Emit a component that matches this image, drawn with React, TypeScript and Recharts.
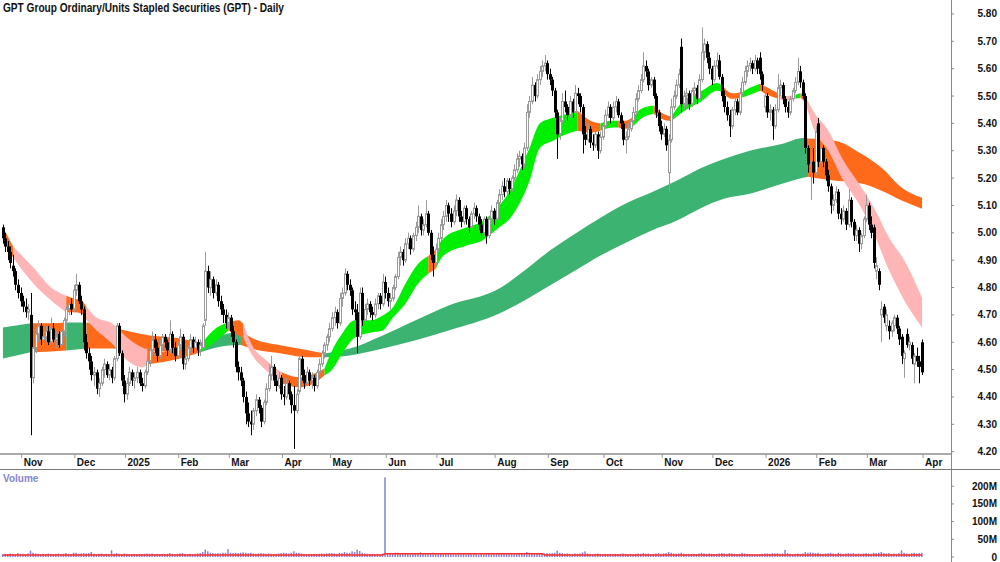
import React from 'react';
import { ComposedChart, Bar, Area, Line, XAxis, YAxis } from 'recharts';

type Candle = [number, number, number, number, number]; // open, high, low, close, volume (M)

const oct24: Candle[] = [
  [5.02,5.03,4.96,4.98,8],[4.98,5.00,4.93,4.95,9],[4.95,4.97,4.90,4.93,8],[4.93,4.95,4.87,4.89,10],
  [4.88,4.92,4.84,4.86,9],[4.86,4.87,4.79,4.81,8],[4.81,4.83,4.76,4.78,11],[4.78,4.80,4.73,4.75,9],
];
const nov24: Candle[] = [
  [4.75,4.77,4.71,4.73,9],[4.73,4.76,4.69,4.71,8],[4.71,4.74,4.68,4.72,10],[4.70,4.78,4.26,4.47,18],
  [4.47,4.60,4.45,4.58,12],[4.58,4.65,4.56,4.63,10],[4.63,4.68,4.60,4.66,9],[4.66,4.67,4.59,4.61,8],
  [4.61,4.64,4.58,4.62,9],[4.62,4.66,4.60,4.64,8],[4.64,4.66,4.59,4.60,10],[4.60,4.69,4.59,4.65,9],
  [4.65,4.67,4.60,4.61,8],[4.61,4.64,4.58,4.62,9],[4.63,4.64,4.58,4.59,10],[4.59,4.65,4.58,4.64,8],
  [4.64,4.69,4.62,4.68,9],[4.68,4.73,4.66,4.72,11],[4.72,4.76,4.70,4.74,9],[4.74,4.76,4.70,4.72,8],
  [4.72,4.81,4.71,4.79,12],
];
const dec24: Candle[] = [
  [4.79,4.85,4.77,4.81,12],[4.81,4.82,4.74,4.75,9],[4.75,4.77,4.70,4.72,10],[4.72,4.73,4.57,4.60,11],
  [4.60,4.63,4.54,4.56,10],[4.56,4.58,4.50,4.53,11],[4.53,4.55,4.46,4.48,14],[4.48,4.51,4.44,4.49,9],
  [4.49,4.50,4.41,4.43,8],[4.43,4.47,4.40,4.45,9],[4.45,4.51,4.44,4.50,10],[4.50,4.54,4.47,4.52,8],
  [4.52,4.53,4.47,4.48,9],[4.48,4.52,4.46,4.50,8],[4.50,4.51,4.45,4.47,19],[4.47,4.55,4.46,4.54,9],
  [4.54,4.67,4.53,4.66,11],[4.66,4.67,4.55,4.56,9],[4.56,4.57,4.44,4.46,7],[4.46,4.48,4.38,4.41,10],
];
const jan25: Candle[] = [
  [4.41,4.47,4.39,4.45,9],[4.45,4.51,4.44,4.49,8],[4.49,4.50,4.44,4.46,8],[4.46,4.49,4.43,4.47,9],
  [4.47,4.51,4.45,4.49,8],[4.49,4.50,4.44,4.45,7],[4.45,4.47,4.42,4.44,8],[4.44,4.50,4.43,4.49,9],
  [4.49,4.55,4.48,4.53,10],[4.53,4.58,4.51,4.57,9],[4.57,4.64,4.55,4.61,10],[4.61,4.63,4.56,4.58,8],
  [4.58,4.60,4.53,4.55,9],[4.55,4.61,4.54,4.59,8],[4.59,4.63,4.57,4.62,9],[4.62,4.63,4.58,4.60,8],
  [4.60,4.61,4.55,4.57,9],[4.57,4.68,4.56,4.63,11],[4.63,4.64,4.56,4.58,9],[4.58,4.60,4.53,4.55,8],
  [4.55,4.60,4.54,4.59,9],
];
const feb25: Candle[] = [
  [4.59,4.65,4.57,4.62,10],[4.62,4.63,4.50,4.52,11],[4.52,4.56,4.50,4.54,9],[4.54,4.59,4.53,4.58,8],
  [4.58,4.63,4.56,4.61,9],[4.61,4.62,4.56,4.58,8],[4.58,4.62,4.57,4.60,9],[4.60,4.61,4.55,4.57,10],
  [4.57,4.61,4.55,4.59,11],[4.58,4.67,4.57,4.66,14],[4.68,4.93,4.66,4.86,21],[4.86,4.88,4.78,4.80,16],
  [4.80,4.86,4.77,4.83,12],[4.83,4.84,4.76,4.78,11],[4.78,4.83,4.77,4.81,10],[4.81,4.82,4.73,4.75,11],
  [4.75,4.77,4.70,4.72,10],[4.72,4.74,4.67,4.70,12],[4.70,4.72,4.65,4.67,12],[4.67,4.71,4.65,4.69,22],
];
const mar25: Candle[] = [
  [4.69,4.70,4.62,4.64,12],[4.64,4.66,4.58,4.60,11],[4.60,4.61,4.49,4.51,12],[4.51,4.53,4.46,4.49,11],
  [4.49,4.51,4.44,4.46,12],[4.46,4.47,4.38,4.40,13],[4.40,4.42,4.30,4.34,12],[4.34,4.38,4.29,4.31,11],
  [4.31,4.35,4.26,4.30,12],[4.30,4.36,4.28,4.35,10],[4.35,4.41,4.33,4.39,9],[4.39,4.40,4.34,4.36,10],
  [4.36,4.37,4.29,4.31,11],[4.31,4.39,4.30,4.38,10],[4.38,4.45,4.37,4.43,9],[4.43,4.52,4.42,4.48,10],
  [4.48,4.55,4.46,4.51,9],[4.51,4.52,4.44,4.46,8],[4.46,4.48,4.42,4.44,9],[4.44,4.49,4.43,4.47,10],
  [4.47,4.48,4.39,4.41,11],
];
const apr25: Candle[] = [
  [4.41,4.44,4.37,4.40,12],[4.40,4.47,4.39,4.45,11],[4.45,4.46,4.39,4.41,10],[4.41,4.42,4.34,4.37,12],
  [4.37,4.44,4.21,4.35,16],[4.35,4.43,4.34,4.41,12],[4.42,4.56,4.41,4.54,12],[4.54,4.55,4.46,4.48,10],
  [4.48,4.50,4.43,4.45,9],[4.45,4.51,4.44,4.49,8],[4.49,4.50,4.44,4.46,9],[4.46,4.49,4.43,4.47,8],
  [4.47,4.48,4.42,4.44,9],[4.44,4.50,4.43,4.49,8],[4.49,4.54,4.48,4.52,9],[4.52,4.57,4.51,4.56,10],
  [4.56,4.60,4.54,4.59,9],[4.59,4.63,4.57,4.62,10],[4.62,4.67,4.60,4.65,11],
];
const may25: Candle[] = [
  [4.65,4.71,4.64,4.69,11],[4.69,4.73,4.66,4.71,10],[4.71,4.72,4.65,4.67,9],[4.67,4.78,4.66,4.76,12],
  [4.76,4.80,4.73,4.78,11],[4.78,4.87,4.77,4.85,14],[4.85,4.86,4.79,4.81,12],[4.81,4.83,4.77,4.79,12],
  [4.79,4.80,4.70,4.72,16],[4.72,4.75,4.68,4.71,14],[4.71,4.74,4.56,4.62,21],[4.62,4.80,4.61,4.78,17],
  [4.78,4.80,4.66,4.68,12],[4.68,4.74,4.67,4.72,10],[4.72,4.76,4.70,4.74,9],[4.74,4.75,4.69,4.71,8],
  [4.71,4.73,4.68,4.70,9],[4.70,4.76,4.69,4.74,8],[4.74,4.78,4.72,4.77,9],[4.77,4.78,4.72,4.74,8],
  [4.74,4.85,4.73,4.82,10],[4.82,4.84,4.76,4.78,225],
];
const jun25: Candle[] = [
  [4.78,4.80,4.73,4.75,11],[4.75,4.78,4.72,4.76,9],[4.76,4.81,4.75,4.80,10],[4.80,4.85,4.79,4.84,12],
  [4.84,4.93,4.83,4.91,12],[4.91,4.95,4.88,4.93,11],[4.93,4.94,4.88,4.90,9],[4.90,4.98,4.89,4.96,10],
  [4.96,5.00,4.94,4.98,9],[4.98,4.99,4.92,4.94,8],[4.94,5.00,4.93,4.99,9],[4.99,5.04,4.97,5.02,10],
  [5.02,5.10,5.00,5.06,11],[5.06,5.07,4.99,5.01,13],[5.01,5.05,4.99,5.03,9],[5.03,5.12,5.02,5.07,10],
  [5.07,5.08,4.99,5.00,9],[5.00,5.01,4.90,4.92,11],[4.92,4.95,4.84,4.89,12],[4.89,4.96,4.88,4.94,10],
];
const jul25: Candle[] = [
  [4.94,5.00,4.93,4.98,9],[4.98,5.05,4.97,5.03,10],[5.03,5.08,5.01,5.06,9],[5.06,5.12,5.04,5.10,10],
  [5.10,5.11,5.04,5.07,8],[5.07,5.09,5.02,5.04,9],[5.04,5.10,5.03,5.08,8],[5.08,5.14,5.06,5.12,9],
  [5.12,5.13,5.04,5.06,10],[5.06,5.08,5.02,5.04,8],[5.04,5.10,5.03,5.09,9],[5.09,5.10,5.03,5.05,8],
  [5.05,5.06,5.00,5.02,9],[5.02,5.08,5.01,5.07,8],[5.07,5.11,5.05,5.09,9],[5.09,5.10,5.04,5.06,8],
  [5.06,5.07,5.01,5.03,7],[5.03,5.05,4.99,5.00,9],[5.00,5.06,4.99,5.05,8],[5.05,5.06,4.96,4.99,10],
  [4.99,5.06,4.98,5.05,9],[5.05,5.10,5.03,5.08,8],[5.08,5.09,5.03,5.05,9],
];
const aug25: Candle[] = [
  [5.05,5.12,5.04,5.11,10],[5.11,5.16,5.09,5.14,9],[5.14,5.19,5.12,5.17,10],[5.17,5.20,5.13,5.15,9],
  [5.15,5.20,5.14,5.19,8],[5.19,5.20,5.14,5.16,9],[5.16,5.21,5.15,5.20,10],[5.20,5.25,5.19,5.23,11],
  [5.23,5.29,5.22,5.27,10],[5.27,5.30,5.24,5.28,9],[5.28,5.29,5.23,5.25,10],[5.25,5.33,5.24,5.31,11],
  [5.31,5.47,5.30,5.44,14],[5.44,5.50,5.42,5.48,12],[5.48,5.57,5.47,5.54,11],[5.54,5.55,5.48,5.50,10],
  [5.50,5.58,5.49,5.56,9],[5.56,5.61,5.54,5.59,10],[5.59,5.63,5.57,5.61,9],[5.61,5.65,5.59,5.62,10],
  [5.62,5.63,5.56,5.58,11],
];
const sep25: Candle[] = [
  [5.58,5.60,5.54,5.56,10],[5.56,5.57,5.50,5.52,11],[5.52,5.53,5.42,5.44,12],[5.44,5.45,5.27,5.36,18],
  [5.36,5.42,5.34,5.41,12],[5.41,5.51,5.40,5.48,11],[5.48,5.52,5.44,5.46,9],[5.46,5.47,5.41,5.43,10],
  [5.43,5.50,5.42,5.48,9],[5.48,5.49,5.42,5.44,8],[5.44,5.54,5.43,5.51,10],[5.51,5.53,5.47,5.50,9],
  [5.50,5.51,5.44,5.46,10],[5.46,5.47,5.29,5.36,13],[5.36,5.39,5.32,5.34,16],[5.34,5.40,5.33,5.38,10],
  [5.38,5.39,5.31,5.33,9],[5.33,5.36,5.30,5.32,8],[5.32,5.38,5.31,5.36,9],[5.36,5.37,5.27,5.30,10],
  [5.30,5.37,5.29,5.35,9],[5.35,5.40,5.34,5.39,8],
];
const oct25: Candle[] = [
  [5.39,5.45,5.38,5.43,9],[5.43,5.48,5.42,5.46,8],[5.46,5.47,5.40,5.42,9],[5.42,5.48,5.41,5.46,8],
  [5.46,5.50,5.44,5.48,9],[5.48,5.49,5.42,5.43,8],[5.43,5.44,5.38,5.40,9],[5.40,5.41,5.32,5.34,10],
  [5.34,5.37,5.29,5.35,9],[5.35,5.40,5.34,5.38,8],[5.38,5.42,5.37,5.41,9],[5.41,5.46,5.40,5.44,8],
  [5.44,5.51,5.43,5.49,9],[5.49,5.54,5.48,5.52,10],[5.52,5.58,5.51,5.56,9],[5.56,5.66,5.55,5.61,11],
  [5.61,5.63,5.57,5.59,9],[5.59,5.60,5.52,5.54,10],[5.54,5.57,5.53,5.56,8],[5.56,5.57,5.49,5.50,9],
  [5.50,5.51,5.42,5.44,10],[5.44,5.45,5.37,5.39,11],[5.39,5.41,5.34,5.36,9],
];
const nov25: Candle[] = [
  [5.36,5.40,5.35,5.38,10],[5.38,5.39,5.30,5.32,11],[5.22,5.36,5.15,5.34,14],[5.34,5.49,5.33,5.46,12],
  [5.46,5.52,5.45,5.50,10],[5.50,5.56,5.49,5.54,9],[5.54,5.60,5.53,5.58,10],[5.68,5.71,5.44,5.47,12],
  [5.47,5.52,5.45,5.50,9],[5.50,5.53,5.46,5.51,8],[5.51,5.52,5.45,5.47,9],[5.47,5.53,5.46,5.52,8],
  [5.52,5.55,5.50,5.53,9],[5.53,5.54,5.47,5.49,8],[5.49,5.58,5.48,5.56,10],[5.56,5.75,5.55,5.66,12],
  [5.66,5.71,5.63,5.69,10],[5.69,5.70,5.62,5.64,9],[5.64,5.66,5.58,5.60,10],[5.60,5.61,5.54,5.56,9],
];
const dec25: Candle[] = [
  [5.56,5.63,5.55,5.61,8],[5.61,5.66,5.60,5.63,9],[5.63,5.65,5.56,5.57,10],[5.57,5.58,5.48,5.50,11],
  [5.50,5.52,5.44,5.46,10],[5.46,5.48,5.41,5.43,9],[5.43,5.45,5.35,5.39,11],[5.39,5.46,5.38,5.45,10],
  [5.45,5.50,5.43,5.48,9],[5.48,5.49,5.43,5.44,8],[5.44,5.53,5.43,5.51,9],[5.51,5.57,5.50,5.55,12],
  [5.55,5.61,5.54,5.59,10],[5.59,5.63,5.57,5.61,9],[5.61,5.64,5.59,5.62,8],[5.62,5.63,5.58,5.60,7],
  [5.60,5.65,5.59,5.63,8],[5.63,5.64,5.58,5.60,7],[5.64,5.66,5.56,5.58,8],[5.58,5.59,5.52,5.54,9],
  [5.46,5.52,5.44,5.50,10],
];
const jan26: Candle[] = [
  [5.50,5.51,5.42,5.44,10],[5.44,5.47,5.41,5.45,9],[5.45,5.46,5.34,5.39,11],[5.39,5.47,5.38,5.45,10],
  [5.45,5.58,5.44,5.53,11],[5.53,5.56,5.50,5.54,9],[5.54,5.55,5.47,5.49,10],[5.49,5.50,5.44,5.46,20],
  [5.46,5.48,5.42,5.44,11],[5.44,5.50,5.43,5.49,9],[5.49,5.53,5.48,5.52,8],[5.52,5.57,5.51,5.55,9],
  [5.55,5.64,5.54,5.59,10],[5.59,5.61,5.53,5.55,9],[5.55,5.56,5.49,5.50,10],[5.50,5.51,5.29,5.31,14],
  [5.31,5.32,5.22,5.25,12],[5.25,5.29,5.12,5.26,13],[5.26,5.31,5.18,5.22,12],[5.22,5.39,5.21,5.37,11],
];
const feb26: Candle[] = [
  [5.40,5.42,5.24,5.26,12],[5.26,5.33,5.25,5.31,10],[5.31,5.32,5.24,5.26,9],[5.26,5.27,5.19,5.21,10],
  [5.21,5.23,5.15,5.17,11],[5.17,5.18,5.07,5.10,12],[5.10,5.14,5.08,5.12,10],[5.12,5.17,5.11,5.15,9],
  [5.15,5.16,5.05,5.07,12],[5.07,5.09,5.03,5.05,10],[5.05,5.10,5.04,5.08,9],[5.08,5.09,5.01,5.03,10],
  [5.03,5.16,5.02,5.12,11],[5.12,5.13,5.02,5.04,10],[5.04,5.05,4.97,4.99,11],[4.99,5.03,4.97,5.01,9],
  [5.01,5.02,4.93,4.96,10],[4.96,5.00,4.94,4.99,9],[4.99,5.06,4.98,5.05,10],[5.05,5.14,5.04,5.10,11],
];
const mar26: Candle[] = [
  [5.10,5.11,5.01,5.03,10],[5.03,5.06,4.98,5.00,9],[5.02,5.03,4.87,4.89,12],[4.86,4.91,4.83,4.88,11],
  [4.86,4.87,4.79,4.81,12],[4.70,4.75,4.60,4.72,14],[4.73,4.74,4.67,4.69,11],[4.66,4.72,4.64,4.70,10],
  [4.66,4.68,4.61,4.64,11],[4.64,4.68,4.62,4.67,9],[4.66,4.70,4.64,4.69,10],[4.69,4.70,4.63,4.65,9],
  [4.65,4.66,4.59,4.61,11],[4.62,4.63,4.52,4.55,19],[4.54,4.57,4.47,4.56,12],[4.63,4.65,4.58,4.59,10],
  [4.59,4.62,4.57,4.60,9],[4.59,4.60,4.52,4.54,11],[4.52,4.56,4.45,4.55,12],[4.55,4.58,4.51,4.53,10],
  [4.53,4.55,4.45,4.51,11],[4.60,4.61,4.48,4.49,12],
];

const monthBars: Candle[][] = [nov24, dec24, jan25, feb25, mar25, apr25, may25, jun25, jul25, aug25, sep25, oct25, nov25, dec25, jan26, feb26, mar26];
const monthLabels = ['Nov', 'Dec', '2025', 'Feb', 'Mar', 'Apr', 'May', 'Jun', 'Jul', 'Aug', 'Sep', 'Oct', 'Nov', 'Dec', '2026', 'Feb', 'Mar'];
const endLabel = 'Apr';

// fast trend band: [index, low, high]
const shortBand: number[][] = [
  [0,4.97,5.02],[4,4.91,4.95],[12,4.815,4.873],[19,4.753,4.80],[25,4.71,4.77],[28,4.71,4.76],[31,4.705,4.753],
  [33,4.68,4.73],[37,4.643,4.69],[43,4.596,4.669],[49,4.534,4.617],[55,4.508,4.581],[57,4.52,4.575],[62,4.526,4.563],
  [70,4.541,4.577],[78,4.563,4.588],[83,4.596,4.643],[89,4.643,4.672],[93,4.625,4.68],[95,4.615,4.665],[98,4.559,4.596],
  [104,4.497,4.534],[110,4.45,4.49],[117,4.435,4.472],[123,4.45,4.486],[127,4.479,4.504],[130,4.50,4.57],[134,4.559,4.632],
  [139,4.617,4.68],[145,4.635,4.68],[150,4.643,4.698],[154,4.69,4.727],[159,4.742,4.815],[164,4.815,4.887],[168,4.85,4.915],
  [171,4.87,4.94],[174,4.917,4.979],[183,4.953,5.019],[189,4.97,5.04],[196,5.02,5.10],[200,5.05,5.15],[204,5.107,5.227],
  [208,5.19,5.311],[212,5.31,5.40],[217,5.336,5.42],[223,5.362,5.435],[227,5.373,5.446],[232,5.366,5.41],[236,5.373,5.40],
  [240,5.384,5.41],[243,5.385,5.41],[246,5.38,5.41],[249,5.39,5.425],[252,5.417,5.453],[257,5.435,5.465],[260,5.417,5.44],
  [264,5.408,5.425],[268,5.439,5.475],[276,5.482,5.519],[282,5.519,5.548],[284,5.515,5.54],[288,5.49,5.51],[292,5.495,5.515],
  [295,5.505,5.53],[299,5.519,5.545],[303,5.50,5.526],[307,5.488,5.505],[309,5.482,5.50],[313,5.49,5.505],[315,5.495,5.51],
  [317,5.475,5.50],[320,5.384,5.446],[326,5.30,5.373],[332,5.19,5.263],[338,5.107,5.18],[344,4.997,5.092],[350,4.862,4.982],
  [356,4.753,4.899],[363,4.654,4.763],
];
const shortSegments: [string, number, number][] = [
  ['o',0,4],['p',4,25],['o',25,33],['p',33,57],['o',57,78],['g',78,89],['o',89,95],['p',95,110],['o',110,127],
  ['g',127,168],['o',168,171],['g',171,227],['o',227,236],['g',236,243],['o',243,249],['g',249,257],['o',257,264],
  ['g',264,284],['o',284,292],['g',292,299],['o',299,307],['p',307,313],['g',313,315],['o',315,317],['p',317,363],
];

// slow trend band: [index, low, high]
const longBand: number[][] = [
  [0,4.541,4.654],[11,4.563,4.669],[19,4.566,4.669],[25,4.57,4.672],[33,4.577,4.672],[43,4.577,4.654],[58,4.57,4.625],
  [70,4.563,4.614],[78,4.563,4.599],[89,4.588,4.632],[94,4.59,4.64],[98,4.577,4.617],[110,4.559,4.588],[121,4.545,4.57],
  [127,4.545,4.559],[137,4.552,4.577],[150,4.577,4.625],[163,4.607,4.68],[176,4.643,4.734],[196,4.705,4.796],
  [206,4.753,4.862],[216,4.807,4.935],[226,4.862,4.997],[236,4.917,5.055],[246,4.964,5.107],[256,5.008,5.147],
  [266,5.044,5.19],[276,5.092,5.238],[285,5.125,5.271],[295,5.143,5.30],[308,5.18,5.326],[316,5.201,5.347],
  [318,5.205,5.345],[329,5.19,5.336],[339,5.18,5.289],[347,5.154,5.238],[355,5.118,5.165],[363,5.088,5.128],
];
const longSegments: [string, number, number][] = [
  ['G',0,11],['o',11,25],['G',25,33],['o',33,78],['G',78,94],['o',94,127],['G',127,318],['o',318,363],
];

const volAvg: number[][] = [[0,5.5],[150,5.6],[151,9.4],[213,9.4],[214,5.6],[363,5.5]];

const priceTicks = [4.2,4.3,4.4,4.5,4.6,4.7,4.8,4.9,5.0,5.1,5.2,5.3,5.4,5.5,5.6,5.7,5.8];
const volTicks = [0, 50, 100, 150, 200];

const COLORS: Record<string, string> = { g: '#00ee00', o: '#ff6a1a', p: '#ffb5b5', G: '#3cb371' };
const FONT = "'Liberation Sans', Arial, Helvetica, sans-serif";

const X0 = -1.163;
const X1 = 374.43;
const P0 = 4.1915;
const P1 = 5.851;

const allBars: Candle[] = [oct24, ...monthBars].flat();
const rows = allBars.map((b, i) => ({ i, o: b[0], h: b[1], l: b[2], c: b[3], v: b[4], hl: [b[2], b[1]] }));

const tickPos: number[] = [];
const tickLab: string[] = [];
{
  let start = oct24.length;
  monthBars.forEach((m, k) => {
    tickPos.push(start - 0.6);
    tickLab.push(monthLabels[k]);
    start += m.length;
  });
  tickPos.push(start - 0.6);
  tickLab.push(endLabel);
}

const segData = (band: number[][], from: number, to: number) =>
  band.filter((p) => p[0] >= from && p[0] <= to).map((p) => ({ i: p[0], r: [p[1], p[2]] }));

const volAvgRows = volAvg.map((p) => ({ i: p[0], m: p[1] }));

const renderCandle = (props: any) => {
  const { x, y, width, height } = props;
  const d = props.payload || props;
  if (x == null || y == null || !isFinite(height)) return <g />;
  const cx = Math.round(x + width / 2) + 0.5;
  const span = d.h - d.l;
  const k = span > 0 ? height / span : 0;
  const yo = y + (d.h - d.o) * k;
  const yc = y + (d.h - d.c) * k;
  const top = Math.min(yo, yc);
  const bh = Math.max(Math.abs(yo - yc), 1);
  const up = d.c >= d.o;
  const col = up ? '#9a9a9a' : '#000000';
  return (
    <g>
      <line x1={cx} x2={cx} y1={y} y2={y + height} stroke={col} strokeWidth={1} />
      {up ? (
        <rect x={cx - 1} y={top} width={2} height={bh} fill="#ffffff" stroke={col} strokeWidth={1} />
      ) : (
        <rect x={cx - 1.5} y={top} width={3} height={bh} fill={col} />
      )}
    </g>
  );
};

const renderVolBar = (props: any) => {
  const { x, y, width, height } = props;
  if (x == null || y == null || !isFinite(height) || height <= 0) return <g />;
  const cx = x + width / 2;
  return <rect x={cx - 0.75} y={y} width={1.5} height={height} fill="#8282d6" />;
};

const renderMonthTick = (props: any) => {
  const v = props.payload?.value;
  let idx = 0;
  let best = Infinity;
  tickPos.forEach((t, k) => {
    const dd = Math.abs(t - v);
    if (dd < best) { best = dd; idx = k; }
  });
  return (
    <text x={props.x + 2} y={466} fontSize={10} fontWeight="bold" fill="#111" fontFamily={FONT} textAnchor="start">
      {tickLab[idx]}
    </text>
  );
};

const renderPriceTick = (props: any) => (
  <text x={997} y={props.y} fontSize={10} fontWeight="bold" fill="#111" fontFamily={FONT} textAnchor="end" dominantBaseline="central">
    {Number(props.payload?.value).toFixed(2)}
  </text>
);

const renderVolTick = (props: any) => {
  const v = Number(props.payload?.value);
  return (
    <text x={997} y={props.y} fontSize={10} fontWeight="bold" fill="#111" fontFamily={FONT} textAnchor="end" dominantBaseline="central">
      {v === 0 ? '0' : `${v}M`}
    </text>
  );
};

export default function App() {
  return (
    <div style={{ position: 'absolute', left: 0, top: 0, width: 1000, height: 562, background: '#fff', overflow: 'hidden', fontFamily: FONT }}>
      <div style={{ position: 'absolute', left: 0, top: 0 }}>
        <ComposedChart width={1000} height={470} data={rows} margin={{ top: 0, right: 0, bottom: 0, left: 0 }}>
          <XAxis
            dataKey="i"
            type="number"
            domain={[X0, X1]}
            allowDataOverflow
            ticks={tickPos}
            interval={0}
            height={16}
            tickSize={4}
            tickLine={{ stroke: '#999' }}
            axisLine={{ stroke: '#aaaaaa', strokeWidth: 2 }}
            tick={renderMonthTick}
          />
          <YAxis
            orientation="right"
            type="number"
            domain={[P0, P1]}
            allowDataOverflow
            ticks={priceTicks}
            interval={0}
            width={49}
            tickSize={3}
            axisLine={false}
            tickLine={{ stroke: '#888' }}
            tick={renderPriceTick}
          />
          {longSegments.map((s, k) => (
            <Area
              key={`L${k}`}
              data={segData(longBand, s[1], s[2])}
              dataKey="r"
              type="monotone"
              stroke="none"
              fill={COLORS[s[0]]}
              fillOpacity={1}
              dot={false}
              activeDot={false}
              isAnimationActive={false}
            />
          ))}
          {shortSegments.map((s, k) => (
            <Area
              key={`S${k}`}
              data={segData(shortBand, s[1], s[2])}
              dataKey="r"
              type="monotone"
              stroke="none"
              fill={COLORS[s[0]]}
              fillOpacity={1}
              dot={false}
              activeDot={false}
              isAnimationActive={false}
            />
          ))}
          <Bar dataKey="hl" barSize={3} shape={renderCandle} isAnimationActive={false} />
        </ComposedChart>
      </div>
      <div style={{ position: 'absolute', left: 0, top: 470 }}>
        <ComposedChart width={1000} height={92} data={rows} margin={{ top: 0, right: 0, bottom: 5, left: 0 }}>
          <XAxis dataKey="i" type="number" domain={[X0, X1]} allowDataOverflow hide />
          <YAxis
            orientation="right"
            type="number"
            domain={[0, 245.8]}
            allowDataOverflow
            ticks={volTicks}
            interval={0}
            width={49}
            tickSize={3}
            axisLine={false}
            tickLine={{ stroke: '#888' }}
            tick={renderVolTick}
          />
          <Bar dataKey="v" barSize={2} shape={renderVolBar} isAnimationActive={false} />
          <Line data={volAvgRows} dataKey="m" type="linear" stroke="#ff2a2a" strokeWidth={1.5} dot={false} activeDot={false} isAnimationActive={false} />
        </ComposedChart>
      </div>
      <div style={{ position: 'absolute', left: 951, top: 0, width: 1, height: 562, background: '#8a8a8a' }} />
      <div style={{ position: 'absolute', left: 0, top: 469, width: 1000, height: 1, background: '#777' }} />
      <svg width={420} height={20} style={{ position: 'absolute', left: 0, top: 0 }}>
        <text x={3} y={11.5} fontSize={12} fontWeight="bold" fill="#111" fontFamily={FONT} textLength={281} lengthAdjust="spacingAndGlyphs">
          GPT Group Ordinary/Units Stapled Securities (GPT) - Daily
        </text>
      </svg>
      <svg width={60} height={20} style={{ position: 'absolute', left: 0, top: 470 }}>
        <text x={3} y={11.5} fontSize={10} fontWeight="bold" fill="#8585c8" fontFamily={FONT}>
          Volume
        </text>
      </svg>
    </div>
  );
}
